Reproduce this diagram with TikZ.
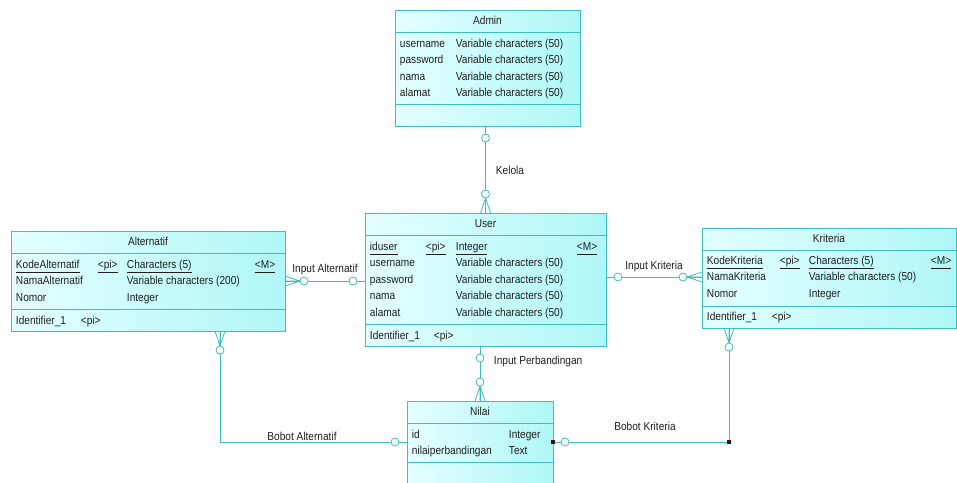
\documentclass[tikz,border=0pt]{standalone}
\usepackage{fontspec}
\setmainfont{Liberation Sans}[FakeStretch=0.88]
\usetikzlibrary{calc}

\definecolor{erline}{RGB}{64,190,190}
\definecolor{erleft}{RGB}{228,255,255}
\definecolor{erright}{RGB}{176,247,247}
\definecolor{txtc}{RGB}{30,30,30}
\definecolor{handlec}{RGB}{70,10,10}

\newcommand{\ulkey}[1]{\underline{#1\vphantom{(}}}

\tikzset{
  entity/.style={rectangle, draw=erline, line width=0.9pt, left color=erleft, right color=erright, inner sep=0pt, outer sep=0pt, anchor=north west},
  txt/.style={anchor=base west, inner sep=0.75pt, text=txtc, font=\fontsize{11.5}{13}\selectfont},
  ttl/.style={anchor=center, inner sep=0.75pt, text=txtc, font=\fontsize{11.5}{13}\selectfont},
  lbl/.style={inner sep=0.75pt, text=txtc, font=\fontsize{11.5}{13}\selectfont},
  rel/.style={draw=erline, line width=0.8pt},
  handle/.style={rectangle, fill=handlec, inner sep=0pt, minimum size=4pt},
  zeromany/.pic={
    \draw[rel] (15,0) -- (0,5) (15,0) -- (0,0) (15,0) -- (0,-5);
    \draw[rel, fill=white] (19,0) circle [radius=4];
  },
  zeroone/.pic={
    \draw[rel, fill=white] (12,0) circle [radius=4];
  },
}

\begin{document}
\begin{tikzpicture}[x=1pt,y=-1pt]
\useasboundingbox (0,0) rectangle (957,482);
\clip (0,0) rectangle (957,482);

%Shape: Entity Admin
\node[entity, minimum width=185pt, minimum height=116pt] (adm) at (395,10) {};
\draw[rel] ($(adm.north west)+(0,22)$) -- ($(adm.north east)+(0,22)$);
\draw[rel] ($(adm.north west)+(0,94)$) -- ($(adm.north east)+(0,94)$);
% Text Node
\node[ttl] (adm-ttl) at ($(adm.north)+(0,10.5)$) {Admin};
\foreach \n/\t [count=\i] in {username/Variable characters (50), password/Variable characters (50), nama/Variable characters (50), alamat/Variable characters (50)}{
  \node[txt] (adm-n\i) at ($(adm.north west)+(4,16.6*\i+20.4)$) {\n};
  \node[txt] (adm-t\i) at ($(adm.north west)+(60,16.6*\i+20.4)$) {\t};
}

%Shape: Entity User
\node[entity, minimum width=241pt, minimum height=133pt] (usr) at (365,213) {};
\draw[rel] ($(usr.north west)+(0,22)$) -- ($(usr.north east)+(0,22)$);
\draw[rel] ($(usr.north west)+(0,111)$) -- ($(usr.north east)+(0,111)$);
% Text Node
\node[ttl] (usr-ttl) at ($(usr.north)+(0,10.5)$) {User};
\node[txt] (usr-n1) at ($(usr.north west)+(4,37)$) {\ulkey{iduser}};
\node[txt] (usr-p1) at ($(usr.north west)+(60,37)$) {\ulkey{<pi>}};
\node[txt] (usr-t1) at ($(usr.north west)+(90,37)$) {\ulkey{Integer}};
\node[txt] (usr-m1) at ($(usr.north west)+(211,37)$) {\ulkey{<M>}};
\foreach \n/\t [count=\i from 2] in {username/Variable characters (50), password/Variable characters (50), nama/Variable characters (50), alamat/Variable characters (50)}{
  \node[txt] (usr-n\i) at ($(usr.north west)+(4,16.6*\i+20.4)$) {\n};
  \node[txt] (usr-t\i) at ($(usr.north west)+(90,16.6*\i+20.4)$) {\t};
}
\node[txt] (usr-id) at ($(usr.north west)+(4,126)$) {Identifier\_1};
\node[txt] (usr-idp) at ($(usr.north west)+(68,126)$) {<pi>};

%Shape: Entity Alternatif
\node[entity, minimum width=274pt, minimum height=100pt] (alt) at (11,231) {};
\draw[rel] ($(alt.north west)+(0,22)$) -- ($(alt.north east)+(0,22)$);
\draw[rel] ($(alt.north west)+(0,78)$) -- ($(alt.north east)+(0,78)$);
% Text Node
\node[ttl] (alt-ttl) at ($(alt.north)+(0,10.5)$) {Alternatif};
\node[txt] (alt-n1) at ($(alt.north west)+(4,37)$) {\ulkey{KodeAlternatif}};
\node[txt] (alt-p1) at ($(alt.north west)+(86,37)$) {\ulkey{<pi>}};
\node[txt] (alt-t1) at ($(alt.north west)+(115,37)$) {\ulkey{Characters (5)}};
\node[txt] (alt-m1) at ($(alt.north west)+(243,37)$) {\ulkey{<M>}};
\node[txt] (alt-n2) at ($(alt.north west)+(4,53.6)$) {NamaAlternatif};
\node[txt] (alt-t2) at ($(alt.north west)+(115,53.6)$) {Variable characters (200)};
\node[txt] (alt-n3) at ($(alt.north west)+(4,70.2)$) {Nomor};
\node[txt] (alt-t3) at ($(alt.north west)+(115,70.2)$) {Integer};
\node[txt] (alt-id) at ($(alt.north west)+(4,93)$) {Identifier\_1};
\node[txt] (alt-idp) at ($(alt.north west)+(69,93)$) {<pi>};

%Shape: Entity Kriteria
\node[entity, minimum width=254pt, minimum height=100pt] (kri) at (702,228) {};
\draw[rel] ($(kri.north west)+(0,22)$) -- ($(kri.north east)+(0,22)$);
\draw[rel] ($(kri.north west)+(0,78)$) -- ($(kri.north east)+(0,78)$);
% Text Node
\node[ttl] (kri-ttl) at ($(kri.north)+(0,10.5)$) {Kriteria};
\node[txt] (kri-n1) at ($(kri.north west)+(4,36)$) {\ulkey{KodeKriteria}};
\node[txt] (kri-p1) at ($(kri.north west)+(77,36)$) {\ulkey{<pi>}};
\node[txt] (kri-t1) at ($(kri.north west)+(106,36)$) {\ulkey{Characters (5)}};
\node[txt] (kri-m1) at ($(kri.north west)+(228,36)$) {\ulkey{<M>}};
\node[txt] (kri-n2) at ($(kri.north west)+(4,52.6)$) {NamaKriteria};
\node[txt] (kri-t2) at ($(kri.north west)+(106,52.6)$) {Variable characters (50)};
\node[txt] (kri-n3) at ($(kri.north west)+(4,69.2)$) {Nomor};
\node[txt] (kri-t3) at ($(kri.north west)+(106,69.2)$) {Integer};
\node[txt] (kri-id) at ($(kri.north west)+(4,92)$) {Identifier\_1};
\node[txt] (kri-idp) at ($(kri.north west)+(69,92)$) {<pi>};

%Shape: Entity Nilai
\node[entity, minimum width=146pt, minimum height=83pt] (nil) at (407,401) {};
\draw[rel] ($(nil.north west)+(0,22)$) -- ($(nil.north east)+(0,22)$);
\draw[rel] ($(nil.north west)+(0,61)$) -- ($(nil.north east)+(0,61)$);
% Text Node
\node[ttl] (nil-ttl) at ($(nil.north)+(0,10.5)$) {Nilai};
\node[txt] (nil-n1) at ($(nil.north west)+(4,37)$) {id};
\node[txt] (nil-t1) at ($(nil.north west)+(101,37)$) {Integer};
\node[txt] (nil-n2) at ($(nil.north west)+(4,53.6)$) {nilaiperbandingan};
\node[txt] (nil-t2) at ($(nil.north west)+(101,53.6)$) {Text};

%Relation: Kelola
\draw[rel] (adm.south -| usr.north) -- (usr.north);
\pic[rotate=-90] at (adm.south -| usr.north) {zeroone};
\pic[rotate=90] at (usr.north) {zeromany};
\node[lbl, anchor=west] (kelola) at (495,170) {Kelola};

%Relation: Input Alternatif
\coordinate (altR) at ($(alt.north east)+(0,50)$);
\draw[rel] (altR) -- (altR -| usr.west);
\pic at (altR) {zeromany};
\pic[rotate=180] at (altR -| usr.west) {zeroone};
\node[lbl] (inalt) at (325,270) {Input Alternatif};

%Relation: Input Kriteria
\coordinate (usrR) at ($(usr.north east)+(0,64)$);
\draw[rel] (usrR) -- (usrR -| kri.west);
\pic at (usrR) {zeroone};
\pic[rotate=180] at (usrR -| kri.west) {zeromany};
\node[lbl] (inkri) at (654,267) {Input Kriteria};

%Relation: Input Perbandingan
\draw[rel] (usr.south -| nil.north) -- (nil.north);
\pic[rotate=-90] at (usr.south -| nil.north) {zeroone};
\pic[rotate=90] at (nil.north) {zeromany};
\node[lbl, anchor=west] (inper) at (493,362) {Input Perbandingan};

%Relation: Bobot Alternatif
\coordinate (altB) at ($(alt.south west)+(209,0)$);
\coordinate (nilL) at ($(nil.north west)+(0,41)$);
\draw[rel] (altB) |- (nilL);
\pic[rotate=-90] at (altB) {zeromany};
\pic[rotate=180] at (nilL) {zeroone};
\node[lbl] (bobalt) at (302,436) {Bobot Alternatif};

%Relation: Bobot Kriteria
\coordinate (kriB) at ($(kri.south west)+(27,0)$);
\coordinate (nilR) at ($(nil.north east)+(0,41)$);
\draw[rel] (kriB) |- (nilR);
\pic[rotate=-90] at (kriB) {zeromany};
\pic at (nilR) {zeroone};
\node[handle] (h1) at (nilR) {};
\node[handle] (h2) at (kriB |- nilR) {};
\node[lbl] (bobkri) at (645,426) {Bobot Kriteria};

\end{tikzpicture}
\end{document}
